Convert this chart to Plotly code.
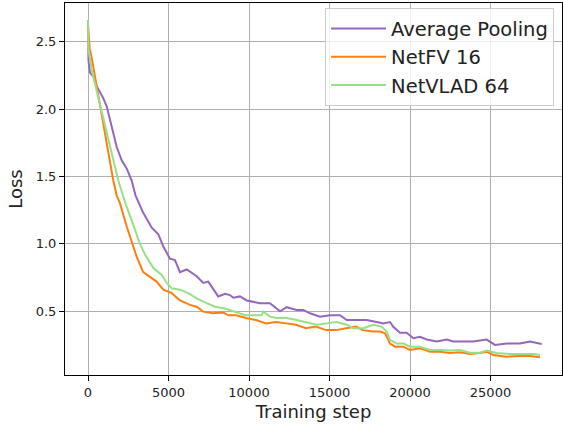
import plotly.graph_objects as go

# ---- data ----
avg_steps = [0, 30, 124, 330, 540, 950, 1160, 1370, 1570, 1780, 2090, 2400, 2710, 2950,
             3430, 3960, 4370, 4680, 5090, 5400, 5710, 6130, 6750, 7160, 7470, 8090, 8510,
             8820, 9020, 9440, 9860, 10270, 10680, 11300, 11930, 12340, 12960, 13370, 13790,
             14410, 15030, 15650, 16070, 16690, 17310, 17930, 18340, 18760, 18960, 19380,
             19790, 20210, 20620, 21040, 21660, 22280, 22690, 23310, 23930, 24760, 25280,
             26000, 26830, 27450, 28180]
avg_loss = [2.66, 2.36, 2.27, 2.24, 2.17, 2.08, 2.02, 1.92, 1.82, 1.72, 1.62, 1.56, 1.47, 1.36,
            1.23, 1.12, 1.07, 0.98, 0.89, 0.88, 0.79, 0.81, 0.76, 0.71, 0.72, 0.61, 0.63,
            0.62, 0.60, 0.61, 0.58, 0.57, 0.56, 0.56, 0.50, 0.53, 0.51, 0.51, 0.485,
            0.46, 0.47, 0.47, 0.435, 0.435, 0.435, 0.42, 0.41, 0.42, 0.385, 0.34,
            0.34, 0.30, 0.31, 0.29, 0.275, 0.29, 0.275, 0.275, 0.275, 0.29, 0.25,
            0.26, 0.26, 0.275, 0.257]

fv_steps = [0, 100, 230, 540, 745, 1060, 1370, 1570, 1780, 1990, 2400, 2710, 3020, 3430,
            3850, 4260, 4680, 5200, 5710, 6340, 6750, 7160, 7780, 8400, 8720, 9190, 9810,
            10430, 11060, 11680, 12300, 12920, 13540, 14160, 14780, 15400, 16030, 16650,
            17060, 17680, 18140, 18450, 18760, 19070, 19590, 20000, 20620, 21250, 21870,
            22490, 23100, 23720, 24350, 24760, 25180, 26000, 26830, 27450, 28070]
fv_loss = [2.62, 2.45, 2.38, 2.17, 2.00, 1.80, 1.60, 1.47, 1.36, 1.30, 1.13, 1.02, 0.905, 0.79,
           0.757, 0.72, 0.66, 0.634, 0.58, 0.547, 0.534, 0.497, 0.485, 0.49, 0.47, 0.47, 0.45,
           0.435, 0.41, 0.42, 0.41, 0.40, 0.374, 0.386, 0.36, 0.36, 0.374, 0.386,
           0.36, 0.35, 0.35, 0.337, 0.26, 0.237, 0.237, 0.213, 0.225, 0.20, 0.20,
           0.19, 0.195, 0.183, 0.19, 0.20, 0.176, 0.163, 0.168, 0.168, 0.159]

vlad_steps = [0, 20, 230, 540, 850, 1160, 1470, 1880, 2300, 2810, 3230, 3540, 4060, 4580,
              4890, 5200, 5710, 6230, 6750, 7370, 7890, 8510, 9140, 9760, 10380, 10790,
              10890, 11300, 11720, 12340, 12960, 13580, 14200, 14820, 15440, 16070, 16480,
              17100, 17720, 18240, 18550, 18760, 19170, 19590, 20000, 20620, 21250, 21870,
              22490, 23100, 23720, 24350, 24760, 25380, 26210, 27040, 27660, 28070]
vlad_loss = [2.66, 2.45, 2.29, 2.14, 1.99, 1.82, 1.67, 1.47, 1.31, 1.14, 1.00, 0.92, 0.82, 0.77,
             0.71, 0.67, 0.66, 0.634, 0.596, 0.56, 0.534, 0.52, 0.497, 0.47, 0.47, 0.47,
             0.497, 0.46, 0.45, 0.45, 0.435, 0.42, 0.40, 0.41, 0.42, 0.40, 0.374,
             0.374, 0.40, 0.386, 0.35, 0.287, 0.26, 0.26, 0.237, 0.237, 0.213, 0.213,
             0.208, 0.213, 0.193, 0.193, 0.208, 0.19, 0.183, 0.183, 0.183, 0.176]

x_ticks = [0, 5000, 10000, 15000, 20000, 25000]
y_ticks = [0.5, 1.0, 1.5, 2.0, 2.5]

series = [
    ("Average Pooling", avg_steps, avg_loss, "#9467bd"),
    ("NetFV 16", fv_steps, fv_loss, "#ff7f0e"),
    ("NetVLAD 64", vlad_steps, vlad_loss, "#98df8a"),
]

fig = go.Figure()
for name, xs, ys, col in series:
    fig.add_trace(go.Scatter(x=xs, y=ys, mode="lines", name=name,
                             line=dict(color=col, width=2)))

axis_common = dict(
    showline=True, linecolor="black", linewidth=1, mirror=True,
    showgrid=True, gridcolor="#b0b0b0", gridwidth=1,
    ticks="outside", ticklen=5, tickcolor="black", tickwidth=1,
    tickfont=dict(family="DejaVu Sans", size=13, color="#222"),
    zeroline=False, automargin=False,
)

fig.update_layout(
    width=563, height=425,
    margin=dict(l=65, r=1, t=3, b=50),
    paper_bgcolor="white", plot_bgcolor="white",
    font=dict(family="DejaVu Sans", color="#222"),
    xaxis=dict(range=[-1429, 29441], tickvals=x_ticks,
               ticktext=[str(v) for v in x_ticks],
               title=dict(text="Training step", font=dict(size=18), standoff=6),
               **axis_common),
    yaxis=dict(range=[0.027, 2.787], tickvals=y_ticks,
               ticktext=[f"{v:.1f}" for v in y_ticks],
               title=dict(text="Loss", font=dict(size=18), standoff=8),
               **axis_common),
    legend=dict(x=0.984, y=0.986, xanchor="right", yanchor="top",
                bgcolor="rgba(255,255,255,0.8)", bordercolor="#cccccc", borderwidth=1,
                itemwidth=55,
                font=dict(family="DejaVu Sans", size=19.5, color="#222")),
    showlegend=True,
)

fig.write_html("out.html", config={"displayModeBar": False},
               post_script="document.body.style.margin='0';document.body.style.overflow='hidden';")
